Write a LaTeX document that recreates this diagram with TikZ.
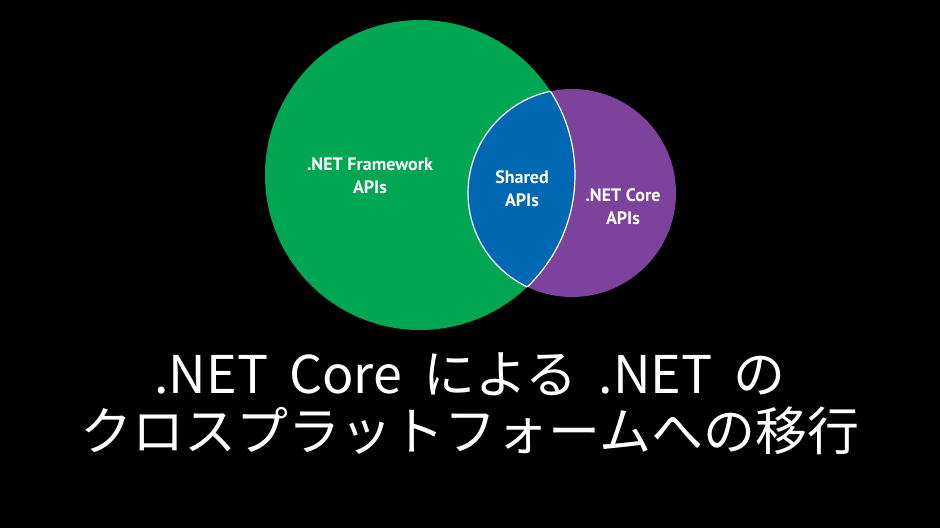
\documentclass[tikz,border=0pt]{standalone}
\usepackage{fontspec}
\newfontfamily\jpfont[WordSpace=1.8]{Noto Sans CJK JP}
\newfontfamily\apifont{PT Sans}
\definecolor{fwgreen}{RGB}{0,166,81}
\definecolor{sharedblue}{RGB}{0,103,178}
\definecolor{corepurple}{RGB}{125,66,155}

\begin{document}
\begin{tikzpicture}[x=1pt, y=-1pt,
  api/.style={align=center, text=white, font=\apifont\bfseries\fontsize{18}{23}\selectfont},
  heading/.style={align=center, text=white, font=\jpfont\fontsize{52}{57}\selectfont},
  rim/.style={draw=white, line width=1.2pt}
  ]
  \fill[black] (0,0) rectangle (940,528);
  \coordinate (fw) at (420,175);
  \coordinate (core) at (572,193);

  % circles
  \fill[fwgreen] (fw) circle (155pt);
  \fill[corepurple] (core) circle (104pt);
  \begin{scope}
    \clip (fw) circle (155pt);
    \fill[sharedblue] (core) circle (104pt);
    \path[rim] (core) circle (104pt);
  \end{scope}
  \begin{scope}
    \clip (core) circle (104pt);
    \path[rim] (fw) circle (155pt);
  \end{scope}

  % labels
  \node[api] (fwapi) at (370,176) {.NET Framework\\APIs};
  \node[api] (shared) at (522,189) {Shared\\APIs};
  \node[api] (coreapi) at (623,207) {.NET Core\\APIs};

  \node[heading] (title) at (470,404) {.NET Core による .NET の\\クロスプラットフォームへの移行};
\end{tikzpicture}
\end{document}
